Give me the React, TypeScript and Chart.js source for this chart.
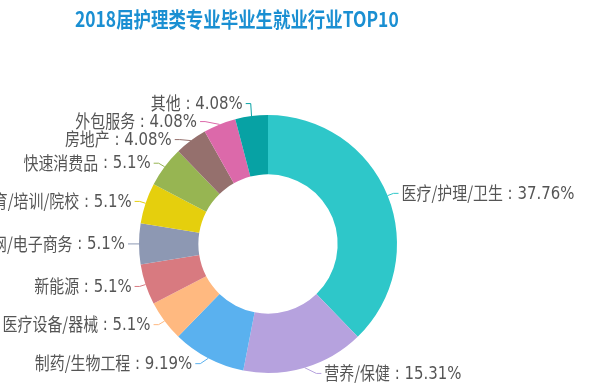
import React, { useEffect, useRef } from "react";
import { Chart, registerables } from "chart.js";

Chart.register(...registerables);

const TITLE = "2018届护理类专业毕业生就业行业TOP10";
const categories = [
  "医疗/护理/卫生",
  "营养/保健",
  "制药/生物工程",
  "医疗设备/器械",
  "新能源",
  "互联网/电子商务",
  "教育/培训/院校",
  "快速消费品",
  "房地产",
  "外包服务",
  "其他",
];
const values = [37.76, 15.31, 9.19, 5.1, 5.1, 5.1, 5.1, 5.1, 4.08, 4.08, 4.08];
const colors = [
  "#2ec7c9",
  "#b6a2de",
  "#5ab1ef",
  "#ffb980",
  "#d87a80",
  "#8d98b3",
  "#e5cf0d",
  "#97b552",
  "#95706d",
  "#dc69aa",
  "#07a2a4",
];

const FONT = '"Noto Sans CJK SC", "Noto Sans", sans-serif';
const SX = 0.83;

function drawScaled(ctx: any, text: string, x: number, y: number) {
  ctx.save();
  ctx.translate(x, y);
  ctx.scale(SX, 1);
  ctx.fillText(text, 0, 0);
  ctx.restore();
}

const titlePlugin = {
  id: "customTitle",
  afterDraw(chart: any) {
    const ctx = chart.ctx;
    ctx.save();
    ctx.font = `bold 21px ${FONT}`;
    ctx.fillStyle = "#1a8fd2";
    ctx.textAlign = "left";
    ctx.textBaseline = "middle";
    drawScaled(ctx, TITLE, 75, 19);
    ctx.restore();
  },
};

const labelPlugin = {
  id: "pieLabels",
  afterDatasetsDraw(chart: any) {
    const ctx = chart.ctx;
    const meta = chart.getDatasetMeta(0);
    const L1 = 6;
    const L2 = 5;
    const GAP = 3;
    const H = 18;
    type Item = {
      x0: number;
      y0: number;
      y: number;
      x1: number;
      dir: number;
      label: string;
      value: string;
      color: string;
      r: number;
      cx: number;
      cy: number;
    };
    const items: Item[] = [];
    meta.data.forEach((arc: any, i: number) => {
      const p = arc.getProps(["x", "y", "startAngle", "endAngle", "outerRadius"], true);
      const mid = (p.startAngle + p.endAngle) / 2;
      const cosA = Math.cos(mid);
      const sinA = Math.sin(mid);
      items.push({
        x0: p.x + p.outerRadius * cosA,
        y0: p.y + p.outerRadius * sinA,
        x1: p.x + (p.outerRadius + L1) * cosA,
        y: p.y + (p.outerRadius + L1) * sinA,
        dir: cosA >= 0 ? 1 : -1,
        label: categories[i],
        value: ` : ${values[i]}%`,
        color: colors[i],
        r: p.outerRadius,
        cx: p.x,
        cy: p.y,
      });
    });
    [1, -1].forEach((dir) => {
      const side = items.filter((it) => it.dir === dir).sort((a, b) => a.y - b.y);
      for (let iter = 0; iter < 200; iter++) {
        let moved = false;
        for (let k = 0; k < side.length - 1; k++) {
          const d = side[k + 1].y - side[k].y;
          if (d < H) {
            const s = (H - d) / 2;
            side[k].y -= s;
            side[k + 1].y += s;
            moved = true;
          }
        }
        if (!moved) break;
      }
    });
    ctx.save();
    ctx.textBaseline = "middle";
    ctx.textAlign = "left";
    const fLabel = `18px ${FONT}`;
    const fValue = `18px "DejaVu Sans", ${FONT}`;
    items.forEach((it) => {
      const dy = Math.abs(it.y - it.cy);
      const R = it.r + L1;
      const dx = dy < R ? Math.sqrt((R + L2) * (R + L2) - dy * dy) : Math.abs(it.x1 - it.cx) + L2;
      const x2 = it.cx + dx * it.dir;
      const xe = x2 - L2 * it.dir;
      ctx.strokeStyle = it.color;
      ctx.lineWidth = 1;
      ctx.beginPath();
      ctx.moveTo(it.x0, it.y0);
      ctx.lineTo(xe, it.y);
      ctx.lineTo(x2, it.y);
      ctx.stroke();
      ctx.fillStyle = "#555";
      ctx.font = fLabel;
      const wl = ctx.measureText(it.label).width * SX;
      ctx.font = fValue;
      const wv = ctx.measureText(it.value).width * SX;
      const startX = it.dir > 0 ? x2 + GAP : x2 - GAP - wl - wv;
      ctx.font = fLabel;
      drawScaled(ctx, it.label, startX, it.y);
      ctx.font = fValue;
      drawScaled(ctx, it.value, startX + wl, it.y + 0.5);
    });
    ctx.restore();
  },
};

export default function App() {
  const ref = useRef<HTMLCanvasElement | null>(null);
  useEffect(() => {
    document.body.style.margin = "0";
    const chart = new Chart(ref.current as HTMLCanvasElement, {
      type: "doughnut",
      data: {
        labels: categories,
        datasets: [
          {
            data: values,
            backgroundColor: colors,
            borderWidth: 0,
            hoverOffset: 0,
          },
        ],
      },
      options: {
        responsive: false,
        animation: false,
        cutout: "54%",
        layout: { padding: { left: 139, right: 203, top: 115, bottom: 16 } },
        plugins: {
          legend: { display: false },
          tooltip: { enabled: false },
          title: { display: false },
        },
      },
      plugins: [titlePlugin, labelPlugin],
    });
    return () => chart.destroy();
  }, []);
  return (
    <div style={{ width: 600, height: 389, background: "#fff" }}>
      <canvas ref={ref} width={600} height={389} />
    </div>
  );
}
